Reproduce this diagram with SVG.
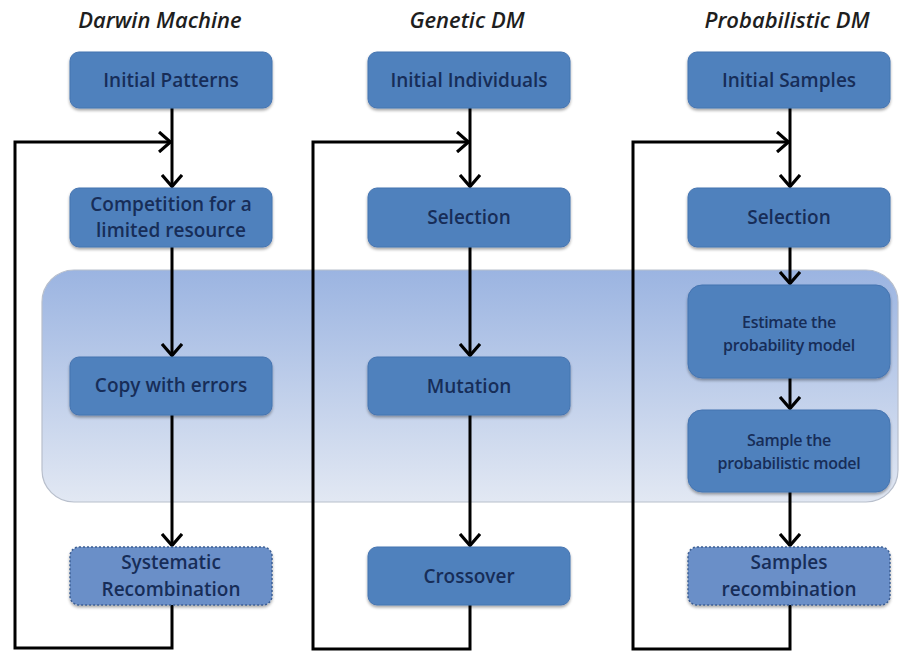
<svg xmlns="http://www.w3.org/2000/svg" width="904" height="654" viewBox="0 0 904 654">
  <defs>
    <linearGradient id="bandFill" x1="0" y1="0" x2="0" y2="1">
      <stop offset="0" stop-color="#9bb4e1"/>
      <stop offset="1" stop-color="#e2e8f3"/>
    </linearGradient>
    <filter id="soft" x="-10%" y="-10%" width="120%" height="130%">
      <feGaussianBlur in="SourceAlpha" stdDeviation="1.5"/>
      <feOffset dx="0" dy="2" result="b"/>
      <feComponentTransfer><feFuncA type="linear" slope="0.35"/></feComponentTransfer>
      <feMerge><feMergeNode/><feMergeNode in="SourceGraphic"/></feMerge>
    </filter>
    <marker id="arrow" viewBox="0 0 14 22" refX="13" refY="11" markerWidth="14" markerHeight="22" markerUnits="userSpaceOnUse" orient="auto">
      <path d="M1,1 L12.5,11 L1,21" fill="none" stroke="#000" stroke-width="3.2" stroke-linejoin="miter"/>
    </marker>
  </defs>
  <style>
    .title { font-family: "Open Sans", "Liberation Sans", sans-serif; font-style: italic; font-weight: 600; font-size: 22px; fill: #1e1e1e; text-anchor: middle; }
    .box { fill: #4f81bd; stroke: #4574b0; stroke-width: 1; filter: url(#soft); }
    .dotted { fill: #6b8fc8; stroke: #3c5f94; stroke-width: 1.5; stroke-dasharray: 2 2; filter: url(#soft); }
    .label { font-family: "Open Sans", "Liberation Sans", sans-serif; font-size: 19px; font-weight: 600; fill: #172d58; text-anchor: middle; }
    .small { font-family: "Open Sans", "Liberation Sans", sans-serif; font-size: 16px; font-weight: 600; fill: #172d58; text-anchor: middle; letter-spacing: -0.3px; }
    .wire { fill: none; stroke: #000; stroke-width: 3; stroke-linejoin: miter; }
    .band { fill: url(#bandFill); stroke: #b8bfcc; stroke-width: 1.2; }
  </style>

  <rect id="white-bg" x="0" y="0" width="904" height="654" fill="#ffffff"/>

  <!-- shared stage band behind the variation steps -->
  <rect class="band" x="42" y="270" width="856" height="232" rx="32" ry="32"/>

  <!-- column headings -->
  <text class="title" x="160" y="28">Darwin Machine</text>
  <text class="title" x="467" y="28">Genetic DM</text>
  <text class="title" x="787" y="28">Probabilistic DM</text>

  <!-- connectors -->
  <g id="connectors">
    <!-- Darwin Machine -->
    <path class="wire" d="M172,108 V187" marker-end="url(#arrow)"/>
    <path class="wire" d="M172,247 V356" marker-end="url(#arrow)"/>
    <path class="wire" d="M172,415 V546" marker-end="url(#arrow)"/>
    <path class="wire" d="M172,605 V648 H15 V142 H171" marker-end="url(#arrow)"/>
    <!-- Genetic DM -->
    <path class="wire" d="M470,108 V187" marker-end="url(#arrow)"/>
    <path class="wire" d="M470,247 V356" marker-end="url(#arrow)"/>
    <path class="wire" d="M470,415 V546" marker-end="url(#arrow)"/>
    <path class="wire" d="M470,605 V649 H313 V142 H469" marker-end="url(#arrow)"/>
    <!-- Probabilistic DM -->
    <path class="wire" d="M790,108 V187" marker-end="url(#arrow)"/>
    <path class="wire" d="M790,247 V284" marker-end="url(#arrow)"/>
    <path class="wire" d="M790,378 V409" marker-end="url(#arrow)"/>
    <path class="wire" d="M790,492 V546" marker-end="url(#arrow)"/>
    <path class="wire" d="M790,605 V649 H633 V142 H789" marker-end="url(#arrow)"/>
  </g>

  <!-- Darwin Machine nodes -->
  <g id="initial-patterns">
    <rect class="box" x="70" y="52" width="202" height="56" rx="9"/>
    <text class="label" x="171" y="87">Initial Patterns</text>
  </g>
  <g id="competition">
    <rect class="box" x="70" y="188" width="202" height="59" rx="9"/>
    <text class="label" x="171" y="211">Competition for a</text>
    <text class="label" x="171" y="237">limited resource</text>
  </g>
  <g id="copy-with-errors">
    <rect class="box" x="70" y="357" width="202" height="58" rx="9"/>
    <text class="label" x="171" y="392">Copy with errors</text>
  </g>
  <g id="systematic-recombination">
    <rect class="dotted" x="70" y="547" width="202" height="58" rx="9"/>
    <text class="label" x="171" y="569">Systematic</text>
    <text class="label" x="171" y="596">Recombination</text>
  </g>

  <!-- Genetic DM nodes -->
  <g id="initial-individuals">
    <rect class="box" x="368" y="52" width="202" height="56" rx="9"/>
    <text class="label" x="469" y="87">Initial Individuals</text>
  </g>
  <g id="selection-genetic">
    <rect class="box" x="368" y="188" width="202" height="59" rx="9"/>
    <text class="label" x="469" y="224">Selection</text>
  </g>
  <g id="mutation">
    <rect class="box" x="368" y="357" width="202" height="58" rx="9"/>
    <text class="label" x="469" y="393">Mutation</text>
  </g>
  <g id="crossover">
    <rect class="box" x="368" y="547" width="202" height="58" rx="9"/>
    <text class="label" x="469" y="583">Crossover</text>
  </g>

  <!-- Probabilistic DM nodes -->
  <g id="initial-samples">
    <rect class="box" x="688" y="52" width="202" height="56" rx="9"/>
    <text class="label" x="789" y="87">Initial Samples</text>
  </g>
  <g id="selection-probabilistic">
    <rect class="box" x="688" y="188" width="202" height="59" rx="9"/>
    <text class="label" x="789" y="224">Selection</text>
  </g>
  <g id="estimate-model">
    <rect class="box" x="688" y="285" width="202" height="93" rx="14"/>
    <text class="small" x="789" y="328">Estimate the</text>
    <text class="small" x="789" y="351">probability model</text>
  </g>
  <g id="sample-model">
    <rect class="box" x="688" y="410" width="202" height="82" rx="14"/>
    <text class="small" x="789" y="446">Sample the</text>
    <text class="small" x="789" y="469">probabilistic model</text>
  </g>
  <g id="samples-recombination">
    <rect class="dotted" x="688" y="547" width="202" height="58" rx="9"/>
    <text class="label" x="789" y="569">Samples</text>
    <text class="label" x="789" y="596">recombination</text>
  </g>
</svg>
